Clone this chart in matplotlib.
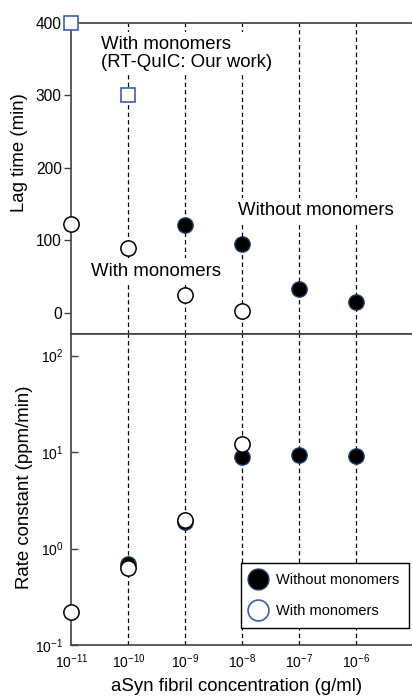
"""Lag time and rate constant vs aSyn fibril concentration, two stacked panels."""
import matplotlib
matplotlib.use("Agg")
import matplotlib.pyplot as plt  # noqa: E402
from matplotlib.lines import Line2D  # noqa: E402

plt.rcParams["font.family"] = ["Liberation Sans", "DejaVu Sans"]
plt.rcParams["mathtext.fontset"] = "custom"
plt.rcParams["mathtext.rm"] = "Liberation Sans"
plt.rcParams["mathtext.it"] = "Liberation Sans:italic"

# concentrations (g/ml)
conc = [1e-11, 1e-10, 1e-9, 1e-8, 1e-7, 1e-6]

# lag time (min)
lag_with_x = [1e-11, 1e-10, 1e-9, 1e-8]
lag_with = [122, 90, 24, 3]
lag_without_x = [1e-9, 1e-8, 1e-7, 1e-6]
lag_without = [121, 95, 33, 15]
lag_rtquic_x = [1e-11, 1e-10]
lag_rtquic = [400, 301]

# rate constant (ppm/min)
rate_with_x = [1e-11, 1e-10, 1e-9, 1e-8]
rate_with = [0.22, 0.635, 1.97, 12.2]
rate_without_x = [1e-10, 1e-9, 1e-8, 1e-7, 1e-6]
rate_without = [0.69, 1.89, 9.0, 9.25, 9.2]

SPINE = "#404040"
NAVY = "#1f3864"
BLUE = "#3a5fa8"
XMAX = 10 ** -5.02
DASH = (0, (3.5, 2.5))

fig = plt.figure(figsize=(4.12, 6.96), dpi=100)
ax1 = fig.add_axes([0.1735, 0.5195, 0.8265, 0.4475])
ax2 = fig.add_axes([0.1735, 0.0733, 0.8265, 0.4462])

filled = dict(marker="o", ms=11, mfc="black", mec=NAVY, mew=1.0, ls="none", clip_on=False, zorder=4)
hollow = dict(marker="o", ms=11, mfc="white", mec="black", mew=1.1, ls="none", clip_on=False, zorder=5)

# --- top: lag time
for c in conc[1:]:
    ax1.axvline(c, color="black", lw=0.9, ls=DASH, zorder=1)
ax1.plot(lag_without_x, lag_without, **filled)
ax1.plot(lag_with_x, lag_with, **hollow)
ax1.plot(lag_rtquic_x, lag_rtquic, marker="s", ms=10, mfc="white", mec=BLUE, mew=1.2,
         ls="none", clip_on=False, zorder=5)
ax1.set_xscale("log")
ax1.set_xlim(1e-11, XMAX)
ax1.set_ylim(-30, 400)
ax1.set_yticks([0, 100, 200, 300, 400])
ax1.set_xticks([])
ax1.minorticks_off()
ax1.tick_params(axis="y", direction="out", length=5, width=1, color=SPINE, labelsize=11.2, pad=2)
ax1.set_ylabel("Lag time (min)", fontsize=13.4)
ax1.yaxis.set_label_coords(-0.128, 0.583)
box = dict(facecolor="white", edgecolor="none", pad=3)
ax1.text(10 ** -10.483, 358, "With monomers\n(RT-QuIC: Our work)", fontsize=13.4,
         ha="left", va="center", linespacing=1.05, bbox=box, zorder=3)
ax1.text(10 ** -8.072, 140.5, "Without monomers", fontsize=13.4,
         ha="left", va="center", bbox=box, zorder=3)
ax1.text(10 ** -10.658, 57.5, "With monomers", fontsize=13.4,
         ha="left", va="center", bbox=box, zorder=3)

# --- bottom: rate constant
for c in conc[1:]:
    ax2.axvline(c, color="black", lw=0.9, ls=DASH, zorder=1)
ax2.plot(rate_without_x, rate_without, **filled)
ax2.plot(rate_with_x, rate_with, **hollow)
ax2.set_xscale("log")
ax2.set_yscale("log")
ax2.set_xlim(1e-11, XMAX)
ax2.set_ylim(0.1, 166)
ax2.set_xticks(conc)
ax2.set_yticks([0.1, 1, 10, 100])
ax2.minorticks_off()
ax2.tick_params(axis="y", direction="in", length=5, width=1, color=SPINE, labelsize=10, pad=6)
ax2.tick_params(axis="x", direction="in", length=0, labelsize=10, pad=5)
ax2.set_ylabel("Rate constant (ppm/min)", fontsize=13.4)
ax2.yaxis.set_label_coords(-0.113, 0.507)
ax2.set_xlabel("aSyn fibril concentration (g/ml)", fontsize=13.4)
ax2.xaxis.set_label_coords(0.486, -0.105)

handles = [
    Line2D([], [], marker="o", ms=15, mfc="black", mec=NAVY, mew=1.0, ls="none"),
    Line2D([], [], marker="o", ms=15, mfc="white", mec=BLUE, mew=1.2, ls="none"),
]
leg = ax2.legend(handles, ["Without monomers", "With monomers"], loc="lower right",
                 bbox_to_anchor=(0.991, 0.0557), borderaxespad=0, fontsize=10.5,
                 fancybox=False, framealpha=1, edgecolor="black", handletextpad=0.75,
                 borderpad=0.65, labelspacing=1.2, handlelength=1.0)
leg.get_frame().set_linewidth(1.0)
leg.set_zorder(6)

for ax in (ax1, ax2):
    ax.spines["right"].set_visible(False)
    for s in ("top", "left", "bottom"):
        ax.spines[s].set_color(SPINE)
        ax.spines[s].set_linewidth(1.2)

fig.savefig("out.png", dpi=100)
plt.close(fig)
